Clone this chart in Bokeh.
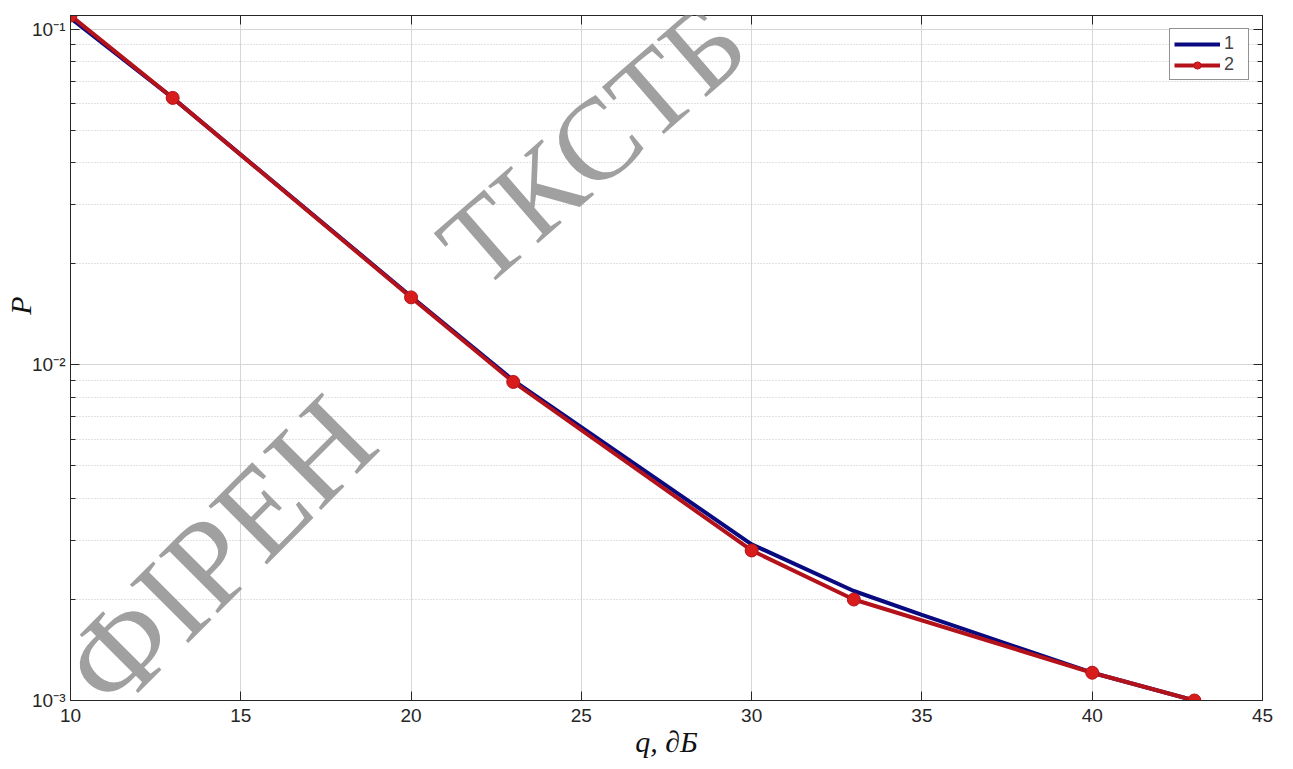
import math
from bokeh.plotting import figure
from bokeh.models import FixedTicker, LinearAxis, LogAxis, Label, Range1d
from bokeh.embed import file_html
from bokeh.resources import INLINE

# ---- data ----
q1 = [10, 13, 20, 23, 30, 33, 35, 40, 43]
p1 = [0.108, 0.0625, 0.0160, 0.0090, 0.00292, 0.00212, 0.00180, 0.00121, 0.00100]
q2 = [10, 13, 20, 23, 30, 33, 40, 43]
p2 = [0.110, 0.0625, 0.0159, 0.0089, 0.00280, 0.00200, 0.00121, 0.00100]

x_ticks = [10, 15, 20, 25, 30, 35, 40, 45]
y_ticks = [0.001, 0.01, 0.1]
y_tick_labels = ["10\u207b\u00b3", "10\u207b\u00b2", "10\u207b\u00b9"]
y_minor = [m * d for d in (0.001, 0.01) for m in range(2, 10)]

legend_labels = ["1", "2"]
x_label = "q, \u2202\u0411"
y_label = "P"
watermark = ["\u0424\u0406\u0420\u0415\u041d", "\u0422\u041a\u0421\u0422\u0411"]

p = figure(width=1293, height=769, y_axis_type="log",
           x_range=Range1d(10, 45), y_range=Range1d(0.001, 0.11),
           output_backend="svg", toolbar_location=None,
           min_border_left=70, min_border_right=31,
           min_border_top=15, min_border_bottom=69)
p.background_fill_color = "white"
p.border_fill_color = "white"
p.outline_line_color = "#262626"

xt = FixedTicker(ticks=x_ticks, minor_ticks=[])
yt = FixedTicker(ticks=y_ticks, minor_ticks=y_minor)
p.xaxis.ticker = xt
p.yaxis.ticker = yt
p.yaxis.major_label_overrides = dict(zip(y_ticks, y_tick_labels))

for ax in (p.xaxis[0], p.yaxis[0]):
    ax.axis_line_color = "#262626"
    ax.major_tick_line_color = "#262626"
    ax.minor_tick_line_color = "#262626"
    ax.major_tick_in = 9
    ax.major_tick_out = 0
    ax.minor_tick_in = 5
    ax.minor_tick_out = 0
    ax.major_label_text_font = "Liberation Sans"
    ax.major_label_text_font_size = "19px"
    ax.major_label_text_color = "#262626"
    ax.axis_label_text_font = "Liberation Serif"
    ax.axis_label_text_font_style = "italic"
    ax.axis_label_text_font_size = "30px"
    ax.axis_label_text_color = "#111111"
p.xaxis.major_label_standoff = 8
p.yaxis.major_label_standoff = 5
p.xaxis.axis_label_standoff = 0
p.yaxis.axis_label_standoff = -8
p.xaxis.axis_label = x_label
# non-breaking spaces lift the rotated "P" above the axis centre, as in the reference
p.yaxis.axis_label = "\u00a0" * 14 + y_label

top = LinearAxis(ticker=xt, major_label_text_color=None, major_label_text_font_size="8px",
                 major_label_standoff=0,
                 major_tick_in=9, major_tick_out=0, minor_tick_in=0, minor_tick_out=0,
                 axis_line_color="#262626", major_tick_line_color="#262626")
right = LogAxis(ticker=yt, major_label_text_color=None, major_label_text_font_size="8px",
                major_label_standoff=0,
                major_tick_in=9, major_tick_out=0, minor_tick_in=5, minor_tick_out=0,
                axis_line_color="#262626", major_tick_line_color="#262626",
                minor_tick_line_color="#262626")
p.add_layout(top, "above")
p.add_layout(right, "right")

p.xgrid.grid_line_color = "#d6d6d6"
p.ygrid.grid_line_color = "#d6d6d6"
p.ygrid.minor_grid_line_color = "#c4c4c4"
p.ygrid.minor_grid_line_dash = "1 2"

# watermark (canvas pixel positions)
wm_font = "Liberation Serif"
p.add_layout(Label(x=84, y=686, x_units="canvas", y_units="canvas",
                   text=watermark[0], angle=math.radians(45),
                   text_font=wm_font, text_font_size="126px", text_color="#a0a0a0",
                   text_align="left", text_baseline="alphabetic", level="overlay"))
p.add_layout(Label(x=456, y=262, x_units="canvas", y_units="canvas",
                   text=watermark[1], angle=math.radians(41),
                   text_font=wm_font, text_font_size="116px", text_color="#a0a0a0",
                   text_align="left", text_baseline="alphabetic", level="overlay"))

# data
p.line(q1, p1, line_color="#0a0a80", line_width=4, legend_label=legend_labels[0])
p.line(q2, p2, line_color="#b3121b", line_width=4, legend_label=legend_labels[1])
p.scatter(q2, p2, size=13, fill_color="#d81c1c", line_color="#b3121b",
          legend_label=legend_labels[1])

lg = p.legend[0]
lg.location = "top_right"
lg.margin = 13
lg.padding = 4
lg.spacing = 0
lg.glyph_width = 46
lg.glyph_height = 18
lg.label_standoff = 4
lg.label_text_font = "Liberation Sans"
lg.label_text_font_size = "18px"
lg.label_height = 18
lg.border_line_color = "#262626"
lg.border_line_width = 1
lg.background_fill_alpha = 1

open("out.html", "w").write(file_html(p, INLINE))
